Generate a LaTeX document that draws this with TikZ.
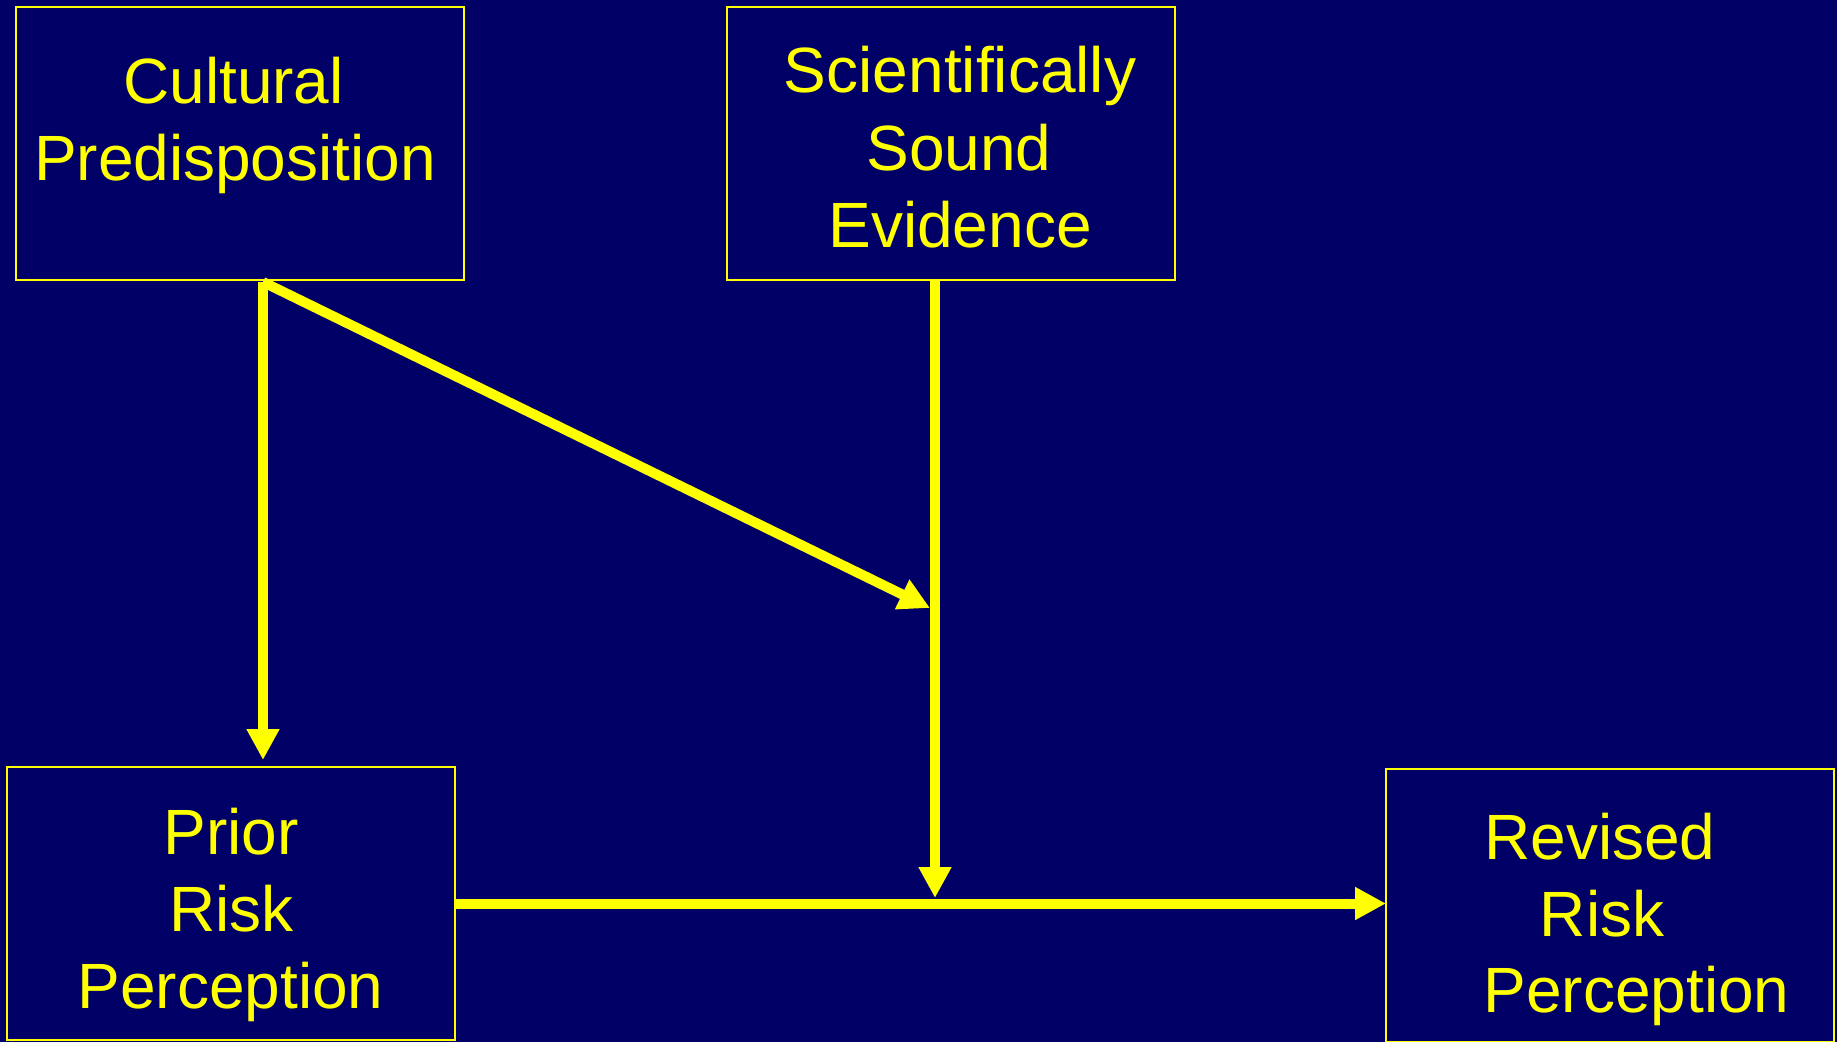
\documentclass[tikz,border=0pt]{standalone}
\usepackage{fontspec}
\setmainfont{Liberation Sans}
\usetikzlibrary{arrows.meta,calc}
\definecolor{bgnavy}{RGB}{0,0,102}
\definecolor{ylw}{RGB}{255,255,0}
\begin{document}
\begin{tikzpicture}[x=0.5pt,y=-0.5pt,
  box/.style={draw=ylw, line width=1pt, rectangle, inner sep=0pt, outer sep=0pt,
              minimum width=224pt, minimum height=136.5pt},
  txt/.style={anchor=base, text=ylw, inner sep=0pt, font=\fontsize{32pt}{38.5pt}\selectfont},
  conn/.style={draw=ylw, line width=5pt, -{Triangle[length=15.5pt,width=15.5pt]}}]
\fill[bgnavy] (0,0) rectangle (1837,1042);
\useasboundingbox (0,0) rectangle (1837,1042);
% boxes
\node[box] (c) at (240,143.5) {};
\node[box] (s) at (950.75,143.5) {};
\node[box] (p) at (231,903.5) {};
\node[box] (r) at (1610,905) {};
% texts
\node[txt] (c1t) at (233.5,104) {Cultural};
\node[txt] (c2t) at (235,181) {Predisposition};
\node[txt] (s1t) at (960,93) {Scientifically};
\node[txt] (s2t) at (959,171) {Sound};
\node[txt] (s3t) at (960,248) {Evidence};
\node[txt] (p1t) at (231,854) {Prior};
\node[txt] (p2t) at (231.5,931) {Risk};
\node[txt] (p3t) at (230.5,1008) {Perception};
\node[txt] (r1t) at (1600,859) {Revised};
\node[txt] (r2t) at (1602,936) {Risk};
\node[txt] (r3t) at (1636.5,1012) {Perception};
% connector points
\coordinate (cs) at (263,282);
\coordinate (d) at (930,608);
\coordinate (j) at (935,903.5);
% connectors
\draw[conn, shorten >=3.5pt] (cs) -- (cs |- p.north);
\draw[conn] (cs) -- (d);
\draw[conn, shorten >=2.75pt] (s.south -| j) -- (j);
\draw[conn] (p.east) -- (p.east -| r.west);
\end{tikzpicture}
\end{document}
